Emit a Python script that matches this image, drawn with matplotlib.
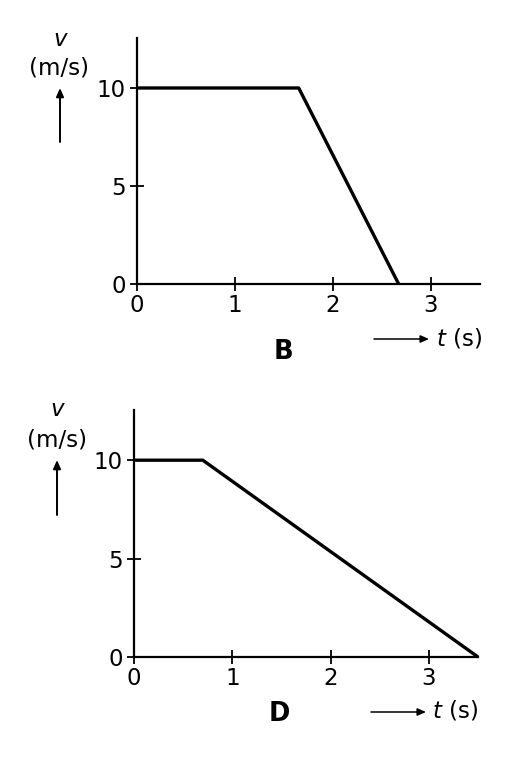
import matplotlib
matplotlib.use("Agg")
import matplotlib.pyplot as plt

# Data
t_B = [0, 1.65, 2.67]
v_B = [10, 10, 0]
t_D = [0, 0.70, 3.5]
v_D = [10, 10, 0]
x_ticks = [0, 1, 2, 3]
y_ticks = [0, 5, 10]
labels = ["B", "D"]

W, H = 507, 773
fig = plt.figure(figsize=(W / 100, H / 100), dpi=100)
plt.rcParams['font.family'] = ['DejaVu Sans']
FS = 16.5

def px(x, y):
    return (x / W, 1 - y / H)

def make_axes(left, right, top, bottom):
    l, b = left / W, 1 - bottom / H
    w, h = (right - left) / W, (bottom - top) / H
    ax = fig.add_axes([l, b, w, h])
    for s in ("top", "right"):
        ax.spines[s].set_visible(False)
    for s in ("left", "bottom"):
        ax.spines[s].set_linewidth(1.6)
    ax.set_xlim(0, 3.5)
    ax.set_ylim(0, 12.55)
    ax.set_xticks(x_ticks)
    ax.set_yticks(y_ticks)
    ax.tick_params(direction="inout", length=10.5, width=1.3, labelsize=FS)
    ax.tick_params(axis="y", pad=3)
    ax.tick_params(axis="x", pad=2)
    return ax

configs = [
    dict(t=t_B, v=v_B, box=(137, 480, 38, 284), lab=labels[0],
         lab_xy=(283, 352), v_xy=(60, 40), ms_xy=(59, 68), arr_v=(60, 142, 60, 88),
         arr_t=(374, 339, 429, 339), ts_xy=(436, 338)),
    dict(t=t_D, v=v_D, box=(134, 478, 410, 657), lab=labels[1],
         lab_xy=(279, 714), v_xy=(57, 410), ms_xy=(57, 440), arr_v=(57, 515, 57, 460),
         arr_t=(371, 712, 426, 712), ts_xy=(432, 711)),
]

for c in configs:
    ax = make_axes(*c["box"])
    ax.plot(c["t"], c["v"], color="black", lw=2.4, solid_capstyle="butt", clip_on=False)
    fig.text(*px(*c["lab_xy"]), c["lab"], fontsize=18.5, fontweight="bold", ha="center", va="center")
    fig.text(*px(*c["v_xy"]), "v", fontsize=FS, style="italic", ha="center", va="center")
    fig.text(*px(*c["ms_xy"]), "(m/s)", fontsize=FS, ha="center", va="center")
    x0, y0, x1, y1 = c["arr_v"]
    fig.patches.append(matplotlib.patches.FancyArrowPatch(
        px(x0, y0), px(x1, y1), transform=fig.transFigure,
        arrowstyle="-|>,head_length=5,head_width=2.2", color="black", lw=1.4,
        shrinkA=0, shrinkB=0))
    x0, y0, x1, y1 = c["arr_t"]
    fig.patches.append(matplotlib.patches.FancyArrowPatch(
        px(x0, y0), px(x1, y1), transform=fig.transFigure,
        arrowstyle="-|>,head_length=5,head_width=2.2", color="black", lw=1.1,
        shrinkA=0, shrinkB=0))
    tx, ty = px(*c["ts_xy"])
    fig.text(tx, ty, r"$\it{t}$ (s)", fontsize=FS, ha="left", va="center")

fig.savefig("out.png", dpi=100)
